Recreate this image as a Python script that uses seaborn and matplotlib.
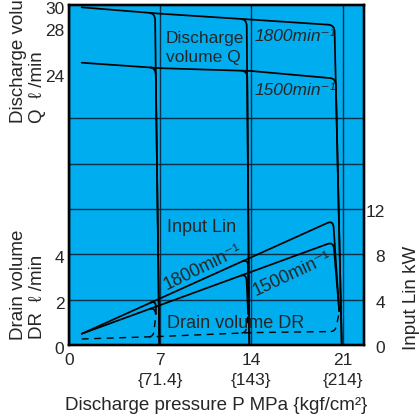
import matplotlib
matplotlib.use("Agg")
import matplotlib.pyplot as plt
from matplotlib.path import Path
from matplotlib.patches import PathPatch
from matplotlib.ticker import FixedLocator
from matplotlib.transforms import ScaledTranslation
import numpy as np
import seaborn as sns

sns.set_theme(style="white")
plt.rcParams["font.family"] = ["Liberation Sans", "DejaVu Sans"]

# compensator pressure settings, MPa and {kgf/cm2}
settings = [7, 14, 21]
settings_kgf = ["{71.4}", "{143}", "{214}"]

# discharge volume Q (l/min) along the flat part
q_p = [1.0, 7.0, 14.0, 20.3]
q_1800 = [29.76, 29.2, 28.68, 28.2]
q_1500 = [24.88, 24.4, 24.15, 23.5]

# input power Lin (kW)
lin_p = [1.0, 20.3]
lin_1800 = [1.0, 11.0]
lin_1500 = [1.0, 9.1]

# drain volume DR (l/min)
dr_p = [1.0, 7.0, 14.0, 20.45]
dr = [0.27, 0.38, 0.55, 0.6]

# cut-off branches: pressure where each curve bends, and where it ends
q1800_turn = [6.62, 13.65, 20.38]
q1500_turn = [6.67, 13.69, 20.48]
q_end = [6.95, 13.85, 20.94]
lin1800_turn = [6.7, 13.75, 20.28]
lin1500_turn = [6.62, 13.62, 20.3]
dr_turn = [6.5, 13.6, 20.45]
cut_x = [6.68, 13.76, 20.75]
dr_cut = [1.35, 1.35, 1.47]

BLUE = "#00ADEF"
GRID = "#06304a"
LW = 1.25
FS = 12.5
TFS = 13.0

fig = plt.figure(figsize=(4.19, 4.20), dpi=100)
ax = fig.add_axes([68.7 / 419, 74.9 / 420, 295.6 / 419, 340.5 / 420])
ax.set_facecolor(BLUE)
ax.set_xlim(0, 22.67)
ax.set_ylim(0, 30)            # Q in l/min (same scale as Lin in kW)
ax_lin = ax.twinx()
ax_lin.set_ylim(0, 30)
ax_dr = ax.twinx()
ax_dr.set_ylim(0, 15)
ax_dr.yaxis.tick_left()

for a in (ax, ax_lin, ax_dr):
    for s in a.spines.values():
        s.set_linewidth(1.6)
        s.set_color("black")

# grid
ax.set_axisbelow(True)
ax.xaxis.set_major_locator(FixedLocator([0] + settings))
ax.yaxis.set_major_locator(FixedLocator([24, 28, 30]))
ax.yaxis.set_minor_locator(FixedLocator(list(range(4, 30, 4))))
ax.grid(True, which="major", axis="x", color=GRID, lw=1.0)
ax.grid(True, which="minor", axis="y", color=GRID, lw=1.0)


def main_line(a, xs, ys, stop, **kw):
    x = [p for p in xs if p < stop] + [stop]
    y = np.interp(x, xs, ys)
    sns.lineplot(x=x, y=y, ax=a, sort=False, estimator=None, color="black", **kw)


def branch(a, xs, ys, turn, end_x, end_y, w, r, **kw):
    y_t = np.interp(turn, xs, ys)
    x0 = turn - w
    y0 = np.interp(x0, xs, ys)
    f = r / abs(y_t - end_y)
    xe = turn + (end_x - turn) * f
    ye = y_t + (end_y - y_t) * f
    path = Path([(x0, y0), (turn, y_t), (xe, ye), (end_x, end_y)],
                [Path.MOVETO, Path.CURVE3, Path.CURVE3, Path.LINETO])
    a.add_patch(PathPatch(path, fill=False, edgecolor="black", **kw))


W, R = 0.45, 0.6
# discharge volume
main_line(ax, q_p, q_1800, q1800_turn[-1] - W, lw=LW)
main_line(ax, q_p, q_1500, q1500_turn[-1] - W, lw=LW)
for i in range(3):
    branch(ax, q_p, q_1800, q1800_turn[i], q_end[i], 0, W, R, lw=LW)
    branch(ax, q_p, q_1500, q1500_turn[i], q_end[i], 0, W, R, lw=LW)

# input power
main_line(ax_lin, lin_p, lin_1800, lin1800_turn[-1] - W, lw=LW)
main_line(ax_lin, lin_p, lin_1500, lin1500_turn[-1] - W, lw=LW)
for i in range(3):
    branch(ax_lin, lin_p, lin_1800, lin1800_turn[i], cut_x[i], 2 * dr_cut[i], W, R, lw=LW)
    branch(ax_lin, lin_p, lin_1500, lin1500_turn[i], cut_x[i], 2 * dr_cut[i], W, R, lw=LW)

# drain volume
main_line(ax_dr, dr_p, dr, dr_turn[-1] - 0.35, lw=1.0, linestyle=(0, (5, 4)))
for i in range(3):
    branch(ax_dr, dr_p, dr, dr_turn[i], cut_x[i], dr_cut[i], 0.35, 0.25,
           lw=1.0, linestyle=(0, (5, 4)))

# ticks and labels
ax.set_xticklabels(["0"] + [f"{p}\n{k}" for p, k in zip(settings, settings_kgf)],
                   fontsize=FS, linespacing=1.34)
ax.set_yticklabels(["24", "28", "30"], fontsize=FS)
ax_dr.yaxis.set_major_locator(FixedLocator([0, 2, 4]))
ax_dr.set_yticklabels(["0", "2", "4"], fontsize=FS)
ax_lin.yaxis.set_major_locator(FixedLocator([0, 4, 8, 12]))
ax_lin.set_yticklabels(["0", "4", "8", "12"], fontsize=FS, ha="right")
ax.tick_params(axis="x", length=0, pad=6)
ax.tick_params(axis="y", which="both", length=0, pad=3.2)
ax_dr.tick_params(axis="y", length=0, pad=3.2)
ax_lin.tick_params(axis="y", length=0, pad=15)

down = ScaledTranslation(0, -3 / 100, fig.dpi_scale_trans)
for lab in ax.get_yticklabels() + ax_dr.get_yticklabels():
    lab.set_transform(lab.get_transform() + down)
down2 = ScaledTranslation(0, -2 / 100, fig.dpi_scale_trans)
for lab in ax_lin.get_yticklabels():
    lab.set_transform(lab.get_transform() + down2)

# annotations inside the chart
ax.text(7.47, 26.6, "Discharge", fontsize=FS, va="baseline")
ax.text(7.47, 24.97, "volume Q", fontsize=FS, va="baseline")
ax.text(14.29, 26.82, "1800min\u207b\u00b9", fontsize=FS, style="italic", va="baseline")
ax.text(14.23, 22.03, "1500min\u207b\u00b9", fontsize=FS, style="italic", va="baseline")
ax.text(7.52, 9.94, "Input Lin", fontsize=TFS, va="baseline")
ax.text(10.3, 6.88, "1800min\u207b\u00b9", fontsize=TFS, rotation=26,
        rotation_mode="anchor", ha="center", va="center")
ax.text(17.16, 6.26, "1500min\u207b\u00b9", fontsize=TFS, rotation=25,
        rotation_mode="anchor", ha="center", va="center")
ax.text(7.52, 1.48, "Drain volume DR", fontsize=TFS, va="baseline")

# axis titles
AFS = 13.5


def fy(px):
    return (420 - px) / 420


def fx(px):
    return px / 419


fig.text(fx(23.3), fy(122.7), "Discharge volume", fontsize=AFS, rotation=90,
         rotation_mode="anchor", ha="left", va="baseline")
fig.text(fx(41.7), fy(123.3), "Q  \u2113 /min", fontsize=AFS, rotation=90,
         rotation_mode="anchor", ha="left", va="baseline")
fig.text(fx(23.3), fy(340), "Drain volume", fontsize=AFS, rotation=90,
         rotation_mode="anchor", ha="left", va="baseline")
fig.text(fx(41.7), fy(339.3), "DR  \u2113 /min", fontsize=AFS, rotation=90,
         rotation_mode="anchor", ha="left", va="baseline")
fig.text(fx(416), fy(350), "Input Lin kW", fontsize=AFS, rotation=90,
         rotation_mode="anchor", ha="left", va="baseline")
fig.text(fx(216.5), fy(410), "Discharge pressure P MPa {kgf/cm\u00b2}", fontsize=AFS,
         ha="center", va="baseline")

fig.savefig("out.png", dpi=100)
